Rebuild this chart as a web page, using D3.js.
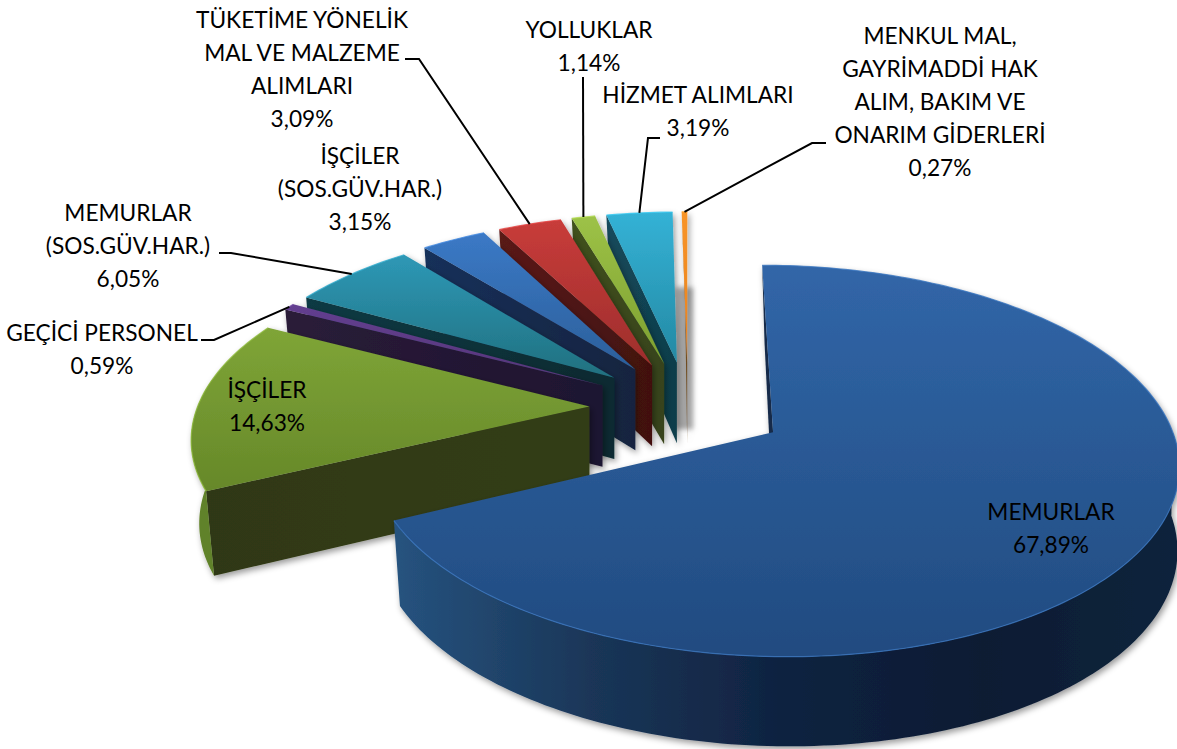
<!DOCTYPE html>
<html><head><meta charset="utf-8">
<script src="https://cdnjs.cloudflare.com/ajax/libs/d3/7.8.5/d3.min.js"></script>
<style>html,body{margin:0;padding:0;background:#fff;overflow:hidden}svg{display:block}</style>
</head><body><svg id="c" width="1177" height="749"></svg>
<script>
const categories = ["MEMURLAR","İŞÇİLER","GEÇİCİ PERSONEL","MEMURLAR (SOS.GÜV.HAR.)","İŞÇİLER (SOS.GÜV.HAR.)","TÜKETİME YÖNELİK MAL VE MALZEME ALIMLARI","YOLLUKLAR","HİZMET ALIMLARI","MENKUL MAL, GAYRİMADDİ HAK ALIM, BAKIM VE ONARIM GİDERLERİ"];
const values = [67.89,14.63,0.59,6.05,3.15,3.09,1.14,3.19,0.27];
const labelLines = [["MEMURLAR"],["İŞÇİLER"],["GEÇİCİ PERSONEL"],["MEMURLAR","(SOS.GÜV.HAR.)"],["İŞÇİLER","(SOS.GÜV.HAR.)"],["TÜKETİME YÖNELİK","MAL VE MALZEME","ALIMLARI"],["YOLLUKLAR"],["HİZMET ALIMLARI"],["MENKUL MAL,","GAYRİMADDİ HAK","ALIM, BAKIM VE","ONARIM GİDERLERİ"]];

// styling (top-from, top-to, wall-from, wall-to, rim-stops)
const topFrom = ["#3166a8","#7fa537","#633f90","#2e98b6","#3b79c6","#c83c3a","#9dc247","#34b2d6","#f89428"];
const topTo   = ["#214b80","#668829","#553578","#20707f","#2b5f9a","#9e2e2c","#7d9f30","#2489a3","#e8801c"];
const wallFrom= ["#172f50","#2f3813","#2a1c38","#103a44","#18305a","#5a1a18","#40511a","#144a5c","#8a5a20"];
const wallTo  = ["#122743","#333d13","#1e1430","#0a2a30","#12243f","#421110","#38431a","#0f3d4a","#6a4a20"];
const rimL    = ["#26537f","#618229","#3a2a55","#1c6070","#234a80","#7a2422","#5f7a26","#1b6a80","#c07020"];
const rimR    = ["#0c1c33","#618229","#2a1c38","#123a44","#18305a","#5a1a18","#40511a","#144a5c","#8a5a20"];

// label placement (centre x, first-line y, elbow start, elbow bend)
const labelX = [1051,267,102,128,360,302,589,698,940];
const labelY = [512,390,333,213,156,20,30,95,36];
const elbowA = [null,null,[201,340],[219,253],null,[405,59],[583,77],[660,138],[826,143]];
const elbowB = [null,null,[214,340],[231,253],null,[419,59],null,[648,138],[812,143]];
const lineStep = 33, fontPx = 22.7;

// projection of the tilted pie
const cx = 688, cy = 407, R = 392, expl = 98.6, kY = 0.4698, q = 0.000368;
const basePivot = 1000, baseLean = 0.01;
const scaleAt = Y => 1/(1 - q*Y);
const proj = (X,Y) => { const s = scaleAt(Y); return {x: cx + X*s, y: cy + kY*Y*s, s}; };
const drop = p => p.y + 43 + 39*p.s;
const down = p => ({x:p.x + (basePivot-p.x)*baseLean, y:drop(p)});

const svg = d3.select("#c");
const defs = svg.append("defs");
const sh = defs.append("filter").attr("id","sh").attr("filterUnits","userSpaceOnUse")
  .attr("x",0).attr("y",0).attr("width",1177).attr("height",749);
sh.append("feDropShadow").attr("dx",2).attr("dy",3).attr("stdDeviation",3).attr("flood-color","#000").attr("flood-opacity",0.4);
const blur = defs.append("filter").attr("id","bl").attr("x","-100%").attr("y","-20%").attr("width","300%").attr("height","140%");
blur.append("feGaussianBlur").attr("stdDeviation",2.5);
const grad = (id,x1,y1,x2,y2,stops) => {
  const g = defs.append("linearGradient").attr("id",id).attr("gradientUnits","userSpaceOnUse")
    .attr("x1",x1).attr("y1",y1).attr("x2",x2).attr("y2",y2);
  stops.forEach((c,i)=>g.append("stop").attr("offset",i/(stops.length-1)).attr("stop-color",c));
};

const arcs = d3.pie().sort(null).value(d=>d)(values);
const line = d3.line().x(d=>d.x).y(d=>d.y);
const slices = arcs.map((d,i)=>{
  const mid=(d.startAngle+d.endAngle)/2;
  const ax=expl*Math.sin(mid), ay=-expl*Math.cos(mid);
  const rim = a => proj(ax+R*Math.sin(a), ay-R*Math.cos(a));
  const n = Math.max(4,Math.ceil((d.endAngle-d.startAngle)/0.02));
  const angles = d3.range(n+1).map(j=>d.startAngle+(d.endAngle-d.startAngle)*j/n);
  return {i,d,mid,apex:proj(ax,ay),rim,angles,pts:angles.map(rim)};
});

const order = d3.range(values.length-1,0,-1).concat([0]);
const g = svg.append("g");
order.forEach(i=>{
  const s = slices[i], pts = s.pts, A = s.apex, Ad = {x:A.x, y:drop(A)};
  const xs = pts.map(p=>p.x).concat(A.x), ys = pts.map(p=>p.y).concat(A.y);
  const x0=d3.min(xs), x1=d3.max(xs), y0=d3.min(ys), y1=d3.max(ys);
  grad("t"+i,0,y0,0,y1,[topFrom[i],topTo[i]]);
  grad("w"+i,x0,0,x1,0,[wallFrom[i],wallTo[i]]);
  grad("r"+i,x0,0,x1,0,i===0?[rimL[0],"#1a3658","#0f2240","#0c1c33","#10243c"]:[rimL[i],rimR[i]]);
  if(i===values.length-1){
    g.append("rect").attr("x",A.x-12).attr("y",A.y-75).attr("width",18).attr("height",142)
      .attr("fill","#a8a8a8").attr("filter","url(#bl)");
  }
  const sg = g.append("g").attr("filter","url(#sh)");
  // start wall, front-facing part of the outer wall, then the top face
  sg.append("path").attr("d",line([A,pts[0],down(pts[0]),Ad])+"Z").attr("fill",`url(#w${i})`);
  const front = s.angles.map((a,j)=>({a,p:pts[j]})).filter(o=>o.a>Math.PI/2 && o.a<Math.PI*1.55).map(o=>o.p);
  if(front.length>1)
    sg.append("path").attr("d",line(front.concat(front.map(down).reverse()))+"Z").attr("fill",`url(#r${i})`);
  sg.append("path").attr("d",line([A].concat(pts))+"Z").attr("fill",`url(#t${i})`);
  g.append("path").attr("d",line(pts)).attr("fill","none").attr("stroke",d3.color(topFrom[i]).brighter(0.35)).attr("stroke-width",1.2).attr("opacity",0.8);
});

// leader lines
const lg = svg.append("g");
slices.forEach((s,i)=>{
  if(!elbowA[i]) return;
  const e = s.rim(s.mid);
  const path = [elbowA[i]].concat(elbowB[i]?[elbowB[i]]:[]).concat([[e.x,e.y]]);
  lg.append("path").attr("d",d3.line()(path)).attr("fill","none").attr("stroke","#000").attr("stroke-width",2);
});

// labels
const fmt = v => v.toFixed(2).replace(".",",")+"%";
const tg = svg.append("g").attr("font-family","Lato, 'Open Sans', sans-serif").attr("font-size",fontPx).attr("fill","#000").attr("text-anchor","middle");
labelLines.forEach((ls,i)=>{
  ls.concat(fmt(values[i])).forEach((t,j)=>{
    tg.append("text").attr("x",labelX[i]).attr("y",labelY[i]+j*lineStep).attr("dy","0.35em").text(t);
  });
});
</script></body></html>
